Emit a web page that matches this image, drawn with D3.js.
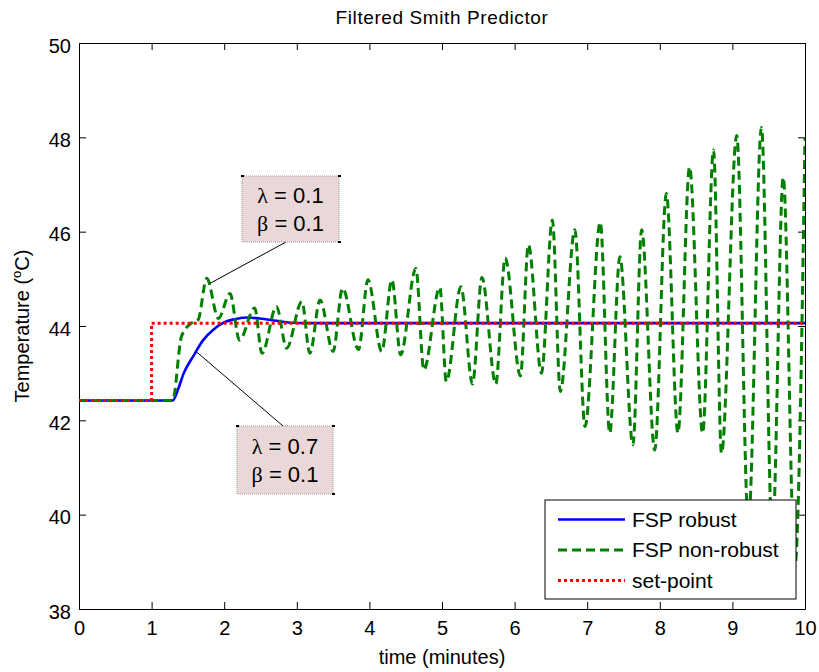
<!DOCTYPE html>
<html>
<head>
<meta charset="utf-8">
<script src="https://cdn.jsdelivr.net/npm/d3@7"></script>
<style>
  body { margin: 0; background: #fff; }
  text { font-family: "Liberation Sans", Arial, sans-serif; fill: #000; }
</style>
</head>
<body>
<div class="canvas"></div>
<script>
// ---- data ----
const xTicks = [0, 1, 2, 3, 4, 5, 6, 7, 8, 9, 10];
const yTicks = [38, 40, 42, 44, 46, 48, 50];

const tSetpoint = [0, 1, 1, 10];
const ySetpoint = [42.42, 42.42, 44.06, 44.06];

const tRobust = [0, 1.29, 1.37, 1.44, 1.57, 1.71, 1.85, 1.99, 2.13, 2.31, 2.49, 2.72, 2.91, 3.2, 10];
const yRobust = [42.42, 42.42, 42.68, 42.99, 43.35, 43.70, 43.92, 44.07, 44.14, 44.18, 44.16, 44.11, 44.07, 44.06, 44.06];

const tNonRobust = [0, 1.29, 1.41, 1.53, 1.64, 1.76, 1.92, 2.08, 2.21, 2.42, 2.52, 2.72, 2.86, 3.07, 3.18,
  3.32, 3.50, 3.63, 3.85, 3.98, 4.17, 4.31, 4.43, 4.64, 4.75, 4.97, 5.06, 5.26, 5.42, 5.55, 5.74,
  5.87, 6.08, 6.19, 6.37, 6.52, 6.63, 6.83, 6.97, 7.18, 7.31, 7.45, 7.63, 7.75, 7.93, 8.09, 8.25,
  8.41, 8.59, 8.74, 8.85, 9.06, 9.22, 9.40, 9.55, 9.70, 9.86, 10];
const yNonRobust = [42.42, 42.42, 43.77, 44.04, 44.13, 45.01, 44.16, 44.69, 43.70, 44.38, 43.42, 44.41, 43.53, 44.52, 43.42,
  44.55, 43.46, 44.80, 43.50, 44.98, 43.46, 44.98, 43.39, 45.22, 43.07, 44.82, 42.82, 44.83, 42.77, 45.03, 42.77,
  45.44, 42.94, 45.72, 43.00, 46.25, 42.61, 46.04, 41.87, 46.20, 41.73, 45.47, 41.48, 46.04, 41.37, 46.81, 41.73,
  47.37, 41.73, 47.73, 41.30, 48.04, 39.8, 48.21, 39.5, 47.15, 38.9, 48.0];

const seriesNames = ['FSP robust', 'FSP non-robust', 'set-point'];
const seriesColors = ['#0000ff', '#007f00', '#ff0000'];
const seriesDash = [null, '9,5', '3,3'];

// annotation boxes: label values and the point each pointer goes to (data units)
const annLambda = ['0.1', '0.7'];
const annBeta = ['0.1', '0.1'];
const annPoint = [[1.8, 44.9], [1.62, 43.45]];

// ---- layout ----
const margin = {top: 43, right: 14, bottom: 63, left: 79};
const W = 819, H = 672;
const graphWidth = W - margin.left - margin.right;
const graphHeight = H - margin.top - margin.bottom;

const svg = d3.select('.canvas')
  .append('svg')
  .attr('width', W)
  .attr('height', H);

const graph = svg.append('g')
  .attr('transform', `translate(${margin.left}, ${margin.top})`);

const x = d3.scaleLinear().domain([0, 10]).range([0, graphWidth]);
const y = d3.scaleLinear().domain([38, 50]).range([graphHeight, 0]);

svg.append('clipPath').attr('id', 'clip')
  .append('rect').attr('width', graphWidth).attr('height', graphHeight);

// axes: inward ticks on all four sides
const tickLen = 7;
const xAxisB = d3.axisBottom(x).tickValues(xTicks).tickSizeInner(-tickLen).tickSizeOuter(0).tickPadding(12);
const xAxisT = d3.axisTop(x).tickValues(xTicks).tickSizeInner(-tickLen).tickSizeOuter(0).tickFormat('');
const yAxisL = d3.axisLeft(y).tickValues(yTicks).tickSizeInner(-tickLen).tickSizeOuter(0).tickPadding(8);
const yAxisR = d3.axisRight(y).tickValues(yTicks).tickSizeInner(-tickLen).tickSizeOuter(0).tickFormat('');

graph.append('g').attr('class', 'x-axis').attr('transform', `translate(0, ${graphHeight})`).call(xAxisB);
graph.append('g').call(xAxisT);
graph.append('g').attr('class', 'y-axis').call(yAxisL);
graph.append('g').attr('transform', `translate(${graphWidth}, 0)`).call(yAxisR);

graph.selectAll('.domain').attr('stroke', '#000').attr('stroke-width', 1);
graph.selectAll('.tick line').attr('stroke', '#000');
graph.selectAll('.tick text')
  .style('font-family', '"Liberation Sans", Arial, sans-serif')
  .style('font-size', '20px')
  .attr('fill', '#000');
graph.select('.y-axis').selectAll('.tick text').attr('dy', '0.45em');
graph.select('.x-axis').selectAll('.tick text').attr('dy', '0.71em');

// lines
const line = d3.line()
  .x(d => x(d[0]))
  .y(d => y(d[1]))
  .curve(d3.curveMonotoneX);

const stepLine = d3.line().x(d => x(d[0])).y(d => y(d[1]));

const plot = graph.append('g').attr('clip-path', 'url(#clip)');

const series = [
  d3.zip(tRobust, yRobust),
  d3.zip(tNonRobust, yNonRobust),
  d3.zip(tSetpoint, ySetpoint)
];

series.forEach((data, i) => {
  plot.append('path')
    .datum(data)
    .attr('fill', 'none')
    .attr('stroke', seriesColors[i])
    .attr('stroke-width', i === 0 ? 2.6 : 3)
    .attr('stroke-dasharray', seriesDash[i])
    .attr('d', i === 2 ? stepLine : line);
});

// annotations
const boxes = [
  {x: 242, y: 176, w: 97, h: 66, ax: 286, ay: 242},
  {x: 237, y: 426, w: 96, h: 68, ax: 283, ay: 426}
];
boxes.forEach((b, i) => {
  svg.append('line')
    .attr('x1', b.ax).attr('y1', b.ay)
    .attr('x2', margin.left + x(annPoint[i][0]))
    .attr('y2', margin.top + y(annPoint[i][1]))
    .attr('stroke', '#000').attr('stroke-width', 1);
  svg.append('rect')
    .attr('x', b.x).attr('y', b.y).attr('width', b.w).attr('height', b.h)
    .attr('fill', '#ead7d7')
    .attr('stroke', '#999').attr('stroke-width', 1).attr('stroke-dasharray', '1,1');
  // small corner marks like the original
  [[b.x + b.w, b.y], [b.x + b.w, b.y + b.h], [b.x, b.y]].forEach(c => {
    svg.append('rect').attr('x', c[0] - 1).attr('y', c[1] - 1)
      .attr('width', 3).attr('height', 2).attr('fill', '#000');
  });
  const t1 = svg.append('text').attr('x', b.x + b.w / 2).attr('y', b.y + b.h / 2 - 6)
    .attr('text-anchor', 'middle').style('font-size', '22px');
  t1.append('tspan').style('font-family', '"Liberation Serif", serif').text('λ');
  t1.append('tspan').text(' = ' + annLambda[i]);
  const t2 = svg.append('text').attr('x', b.x + b.w / 2).attr('y', b.y + b.h / 2 + 22)
    .attr('text-anchor', 'middle').style('font-size', '22px');
  t2.append('tspan').style('font-family', '"Liberation Serif", serif').text('β');
  t2.append('tspan').text(' = ' + annBeta[i]);
});

// legend
const lg = {x: 545, y: 500, w: 251, h: 99};
const legend = svg.append('g');
legend.append('rect')
  .attr('x', lg.x).attr('y', lg.y).attr('width', lg.w).attr('height', lg.h)
  .attr('fill', '#fff').attr('stroke', '#000').attr('stroke-width', 1);
seriesNames.forEach((name, i) => {
  const ry = lg.y + 19.5 + i * 30.5;
  legend.append('line')
    .attr('x1', lg.x + 13).attr('x2', lg.x + 80)
    .attr('y1', ry).attr('y2', ry)
    .attr('stroke', seriesColors[i])
    .attr('stroke-width', i === 0 ? 2.6 : 3)
    .attr('stroke-dasharray', seriesDash[i]);
  legend.append('text')
    .attr('x', lg.x + 87).attr('y', ry + 7)
    .style('font-size', '21px')
    .text(name);
});

// titles
svg.append('text')
  .attr('x', margin.left + graphWidth / 2).attr('y', 24)
  .attr('text-anchor', 'middle').style('font-size', '19px')
  .style('letter-spacing', '0.6px')
  .text('Filtered Smith Predictor');

svg.append('text')
  .attr('x', margin.left + graphWidth / 2).attr('y', 664)
  .attr('text-anchor', 'middle').style('font-size', '20px')
  .text('time (minutes)');

const yl = svg.append('text')
  .attr('transform', `translate(29, ${margin.top + graphHeight / 2}) rotate(-90)`)
  .attr('text-anchor', 'middle').style('font-size', '20px');
yl.append('tspan').text('Temperature (');
yl.append('tspan').attr('dy', -8).style('font-size', '13px').text('o');
yl.append('tspan').attr('dy', 8).text('C)');
</script>
</body>
</html>
